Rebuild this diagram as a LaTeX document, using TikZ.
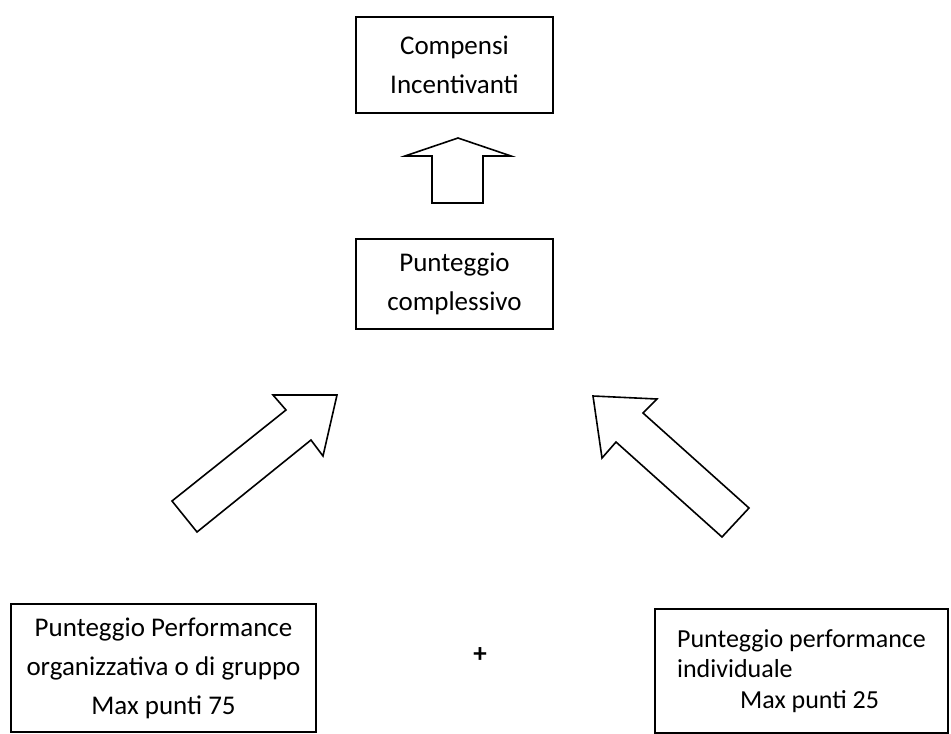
\documentclass[tikz,border=0pt]{standalone}
\usepackage{fontspec}
\setmainfont{Carlito}
\usetikzlibrary{positioning}
\begin{document}
\begin{tikzpicture}[x=1pt, y=-1pt, line width=1.6pt,
   box_style/.style={draw=black, rectangle, line width=1.6pt, inner sep=0pt, align=center,
      font=\fontsize{27}{39}\selectfont},
   arrow_style/.style={draw=black, line width=1.6pt, line join=miter}]
	\useasboundingbox (0,0) rectangle (951,734);

	\node [box_style, minimum width=197, minimum height=96] (compensi) at (454.5,65) {Compensi\\Incentivanti};
	\node [box_style, minimum width=197, minimum height=90] (totale) at (454.5,284) {Punteggio\\complessivo};
	\node [box_style, minimum width=305, minimum height=128] (organizzativa) at (163.5,668)
	  {Punteggio Performance\\organizzativa o di gruppo\\Max punti 75};
	\node [box_style, minimum width=293, minimum height=124, align=left,
	  font=\fontsize{26}{30.5}\selectfont] (individuale) at (801.5,671)
	  {Punteggio performance\\individuale\\\hspace*{63pt}Max punti 25};
	\node [font=\fontsize{27}{30}\selectfont\bfseries] (piu) at (480,655) {+};

	% block arrows
	\draw [arrow_style] (458,138) -- (511,156) -- (483,156) -- (483,203) -- (432,203) -- (432,156) -- (405,156) -- cycle;
	\draw [arrow_style] (337,395) -- (323,456) -- (311,440) -- (197,532) -- (172,501) -- (286,410) -- (273,395) -- cycle;
	\draw [arrow_style] (593,396) -- (657,399) -- (643,413) -- (749,508) -- (722,537) -- (616,442) -- (602,458) -- cycle;

\end{tikzpicture}
\end{document}
